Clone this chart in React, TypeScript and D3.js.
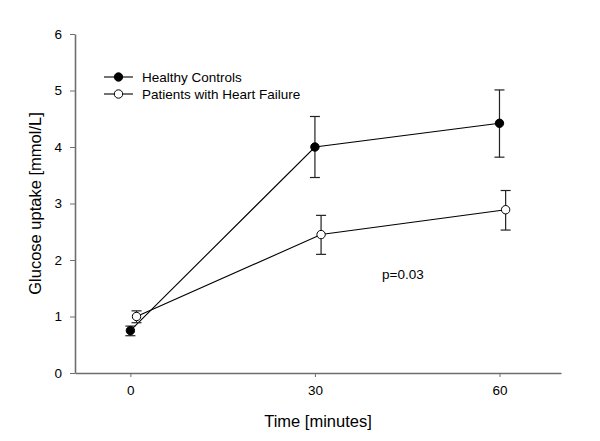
import { useEffect, useRef } from "react";
import * as d3 from "d3";

// data
const timePoints = [0, 30, 60];
const controlTimes = [0, 30, 60];
const controlMeans = [0.75, 4.0, 4.42];
const controlUpper = [0.83, 4.54, 5.01];
const controlLower = [0.66, 3.46, 3.82];

// patients are drawn slightly to the right (1 min offset) in the original
const patientTimes = [1, 31, 61];
const patientMeans = [1.0, 2.45, 2.89];
const patientUpper = [1.1, 2.79, 3.23];
const patientLower = [0.89, 2.1, 2.53];

const yTicks = [0, 1, 2, 3, 4, 5, 6];
const seriesNames = ["Healthy Controls", "Patients with Heart Failure"];

const W = 600;
const H = 441;
const FONT = "'Liberation Sans', Arial, sans-serif";

export default function App() {
  const svgRef = useRef<SVGSVGElement | null>(null);

  useEffect(() => {
    if (!svgRef.current) return;
    const svg = d3.select(svgRef.current);
    svg.selectAll("*").remove();

    const x = d3.scaleLinear().domain([-9, 70]).range([75, 561]);
    const y = d3.scaleLinear().domain([0, 6]).range([373, 34]);
    const axisColor = "#6e6e6e";

    // axes
    const xAxis = svg.append("g").attr("transform", `translate(0,${y(0)})`)
      .call(d3.axisBottom(x).tickValues(timePoints).tickFormat(d3.format("d")).tickSize(4).tickSizeOuter(0).tickPadding(8));
    const yAxis = svg.append("g").attr("transform", `translate(${x(-9)},0)`)
      .call(d3.axisLeft(y).tickValues(yTicks).tickFormat(d3.format("d")).tickSize(5).tickSizeOuter(0).tickPadding(8));
    [xAxis, yAxis].forEach((a) => {
      a.select(".domain").attr("stroke", axisColor).attr("stroke-width", 1.6);
      a.selectAll(".tick line").attr("stroke", axisColor).attr("stroke-width", 1);
      a.selectAll(".tick text")
        .attr("fill", "#000")
        .style("font-family", FONT)
        .style("font-size", "13.5px");
    });

    svg.append("text")
      .attr("x", 318).attr("y", 427)
      .attr("text-anchor", "middle")
      .style("font-family", FONT).style("font-size", "16.5px")
      .text("Time [minutes]");

    svg.append("text")
      .attr("transform", `translate(41,${y(3)}) rotate(-90)`)
      .attr("text-anchor", "middle")
      .style("font-family", FONT).style("font-size", "16.5px")
      .text("Glucose uptake [mmol/L]");

    const line = d3.line<[number, number]>().x((d) => x(d[0])).y((d) => y(d[1]));

    const drawSeries = (times: number[], means: number[], upper: number[], lower: number[], fill: string) => {
      const g = svg.append("g");
      g.append("path")
        .attr("d", line(times.map((t, i) => [t, means[i]] as [number, number])))
        .attr("fill", "none").attr("stroke", "#000").attr("stroke-width", 1.1);
      times.forEach((t, i) => {
        const cx = x(t);
        g.append("line").attr("x1", cx).attr("x2", cx).attr("y1", y(upper[i])).attr("y2", y(lower[i]))
          .attr("stroke", "#222").attr("stroke-width", 1.2);
        [upper[i], lower[i]].forEach((v) => {
          g.append("line").attr("x1", cx - 5).attr("x2", cx + 5).attr("y1", y(v)).attr("y2", y(v))
            .attr("stroke", "#222").attr("stroke-width", 1.2);
        });
        g.append("circle").attr("cx", cx).attr("cy", y(means[i])).attr("r", 4.2)
          .attr("fill", fill).attr("stroke", "#000").attr("stroke-width", 1);
      });
    };

    drawSeries(controlTimes, controlMeans, controlUpper, controlLower, "#000");
    drawSeries(patientTimes, patientMeans, patientUpper, patientLower, "#fff");

    // legend
    const legend = svg.append("g");
    seriesNames.forEach((name, i) => {
      const ly = 77 + i * 17;
      legend.append("line").attr("x1", 104).attr("x2", 133).attr("y1", ly).attr("y2", ly)
        .attr("stroke", "#000").attr("stroke-width", 1.1);
      legend.append("circle").attr("cx", 118.5).attr("cy", ly).attr("r", 4.2)
        .attr("fill", i === 0 ? "#000" : "#fff").attr("stroke", "#000");
      legend.append("text").attr("x", 142).attr("y", ly).attr("dy", "0.35em")
        .style("font-family", FONT).style("font-size", "13.5px")
        .text(name);
    });

    svg.append("text")
      .attr("x", 382).attr("y", 274).attr("dy", "0.35em")
      .style("font-family", FONT).style("font-size", "13.5px")
      .text("p=0.03");
  }, []);

  return (
    <svg
      ref={svgRef}
      width={W}
      height={H}
      style={{ position: "absolute", left: 0, top: 0, background: "#fff" }}
    />
  );
}
